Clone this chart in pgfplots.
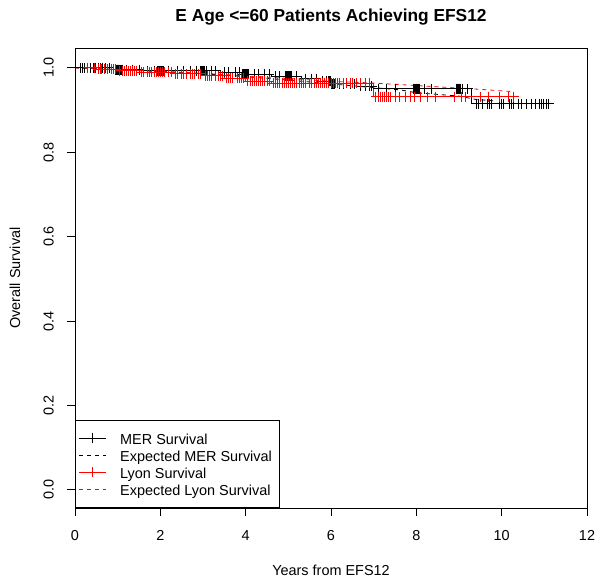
\documentclass[border=0pt]{standalone}
\usepackage{fontspec}
\setmainfont{Liberation Sans}
\usepackage{pgfplots}
\pgfplotsset{compat=1.18}
\definecolor{rred}{RGB}{255,0,0}
\begin{document}
\begin{tikzpicture}
\path[use as bounding box] (-75bp,-76bp) rectangle (529bp,508bp);
\begin{axis}[
  at={(0,0)}, anchor=south west,
  scale only axis, width=512bp, height=460bp,
  xmin=0, xmax=12, ymin=-0.043, ymax=1.047,
  xtick={0,2,...,12}, ytick={0,0.2,...,1.0},
  tick align=outside, major tick length=8bp,
  xtick pos=bottom, ytick pos=left,
  axis line style={line width=0.8bp},
  every tick/.style={black, line width=0.8bp},
  /pgf/number format/assume math mode=true,
  tick label style={font=\fontsize{14.5}{17}\selectfont},
  yticklabel style={/pgf/number format/fixed, /pgf/number format/fixed zerofill, /pgf/number format/precision=1, rotate=90, anchor=south, inner sep=0pt, yshift=13bp},
  xticklabel style={anchor=north, inner sep=0pt, yshift=-14bp},
  title={\bfseries E Age <=60 Patients Achieving EFS12},
  title style={at={(axis description cs:0.5,1)}, anchor=center, yshift=25bp, font=\fontsize{17.4}{20}\selectfont},
  xlabel={Years from EFS12},
  ylabel={Overall Survival},
  xlabel style={at={(axis description cs:0.5,0)}, anchor=center, yshift=-62bp, font=\fontsize{14.5}{17}\selectfont},
  ylabel style={at={(axis description cs:0,0.5)}, anchor=center, rotate=0, yshift=60bp, font=\fontsize{14.5}{17}\selectfont},
  legend style={at={(0,0)}, anchor=south west, draw=black, line width=0.8bp, inner xsep=3bp, inner ysep=11.5bp,
    font=\fontsize{14.5}{17}\selectfont, row sep=3.5bp,
    nodes={inner sep=0pt, text height=12.5bp, text depth=1bp, anchor=west}},
  legend cell align=left,
  legend image code/.code={\draw[#1] (0bp,0bp) -- (27bp,0bp); \path (41bp,0bp);},
]
% ---- MER survival (KM) ----
\addplot[black, line width=0.8bp, const plot, mark=none,
  legend image code/.code={\draw[black, line width=0.8bp] (0bp,0bp) -- (27bp,0bp); \draw[black, line width=0.8bp] (13.5bp,-5bp) -- (13.5bp,5bp); \path (41bp,0bp);}]
coordinates {(0,1.0) (0.9,0.996) (1.6,0.993) (3.4,0.989) (3.9,0.985) (4.6,0.980) (5.3,0.974) (5.7,0.968) (6.0,0.962) (6.6,0.956) (7.0,0.951) (9.3,0.915) (11.1,0.915)};
\addlegendentry{MER Survival}
% ---- Expected MER ----
\addplot[black, line width=0.8bp, dash pattern=on 4bp off 4bp, mark=none]
coordinates {(0,1.0) (1,0.996) (2,0.991) (3,0.986) (4,0.979) (5,0.971) (6,0.962) (7,0.953) (7.6,0.948) (8,0.941) (9,0.933) (9.4,0.925) (9.8,0.922)};
\addlegendentry{Expected MER Survival}
% ---- Lyon survival (KM) ----
\addplot[rred, line width=0.8bp, const plot, mark=none,
  legend image code/.code={\draw[rred, line width=0.8bp] (0bp,0bp) -- (27bp,0bp); \draw[rred, line width=0.8bp] (13.5bp,-5bp) -- (13.5bp,5bp); \path (41bp,0bp);}]
coordinates {(0,1.0) (0.5,0.997) (1.0,0.993) (1.5,0.990) (2.3,0.986) (3.0,0.981) (3.5,0.975) (4.0,0.969) (4.6,0.964) (7.0,0.932) (10.3,0.932)};
\addlegendentry{Lyon Survival}
% ---- Expected Lyon ----
\addplot[rred, line width=0.8bp, dash pattern=on 4bp off 4bp, mark=none]
coordinates {(0,1.0) (1,0.996) (2,0.992) (3,0.987) (4,0.981) (5,0.975) (6,0.968) (7,0.964) (8,0.958) (9,0.952) (9.5,0.949) (10.2,0.944)};
\addlegendentry{Expected Lyon Survival\hspace*{6bp}}
% ---- MER censor marks ----
\addplot[black, only marks, mark=+, mark size=5bp, mark options={line width=0.75bp}, forget plot]
coordinates {
(0.12,1.0) (0.18,1.0) (0.23,1.0) (0.36,1.0) (0.42,1.0) (0.47,1.0) (0.55,1.0) (0.6,1.0) (0.65,1.0) (0.72,1.0) (0.8,1.0)
(0.95,0.996) (0.97,0.996) (0.99,0.996) (1.0,0.996) (1.01,0.996) (1.02,0.996) (1.04,0.996) (1.06,0.996) (1.08,0.996) (1.1,0.996) (1.2,0.996) (1.35,0.996) (1.5,0.996)
(1.7,0.993) (1.85,0.993) (1.92,0.993) (1.95,0.993) (1.97,0.993) (1.99,0.993) (2.0,0.993) (2.02,0.993) (2.04,0.993) (2.07,0.993) (2.2,0.993) (2.4,0.993) (2.55,0.993) (2.7,0.993) (2.85,0.993) (2.93,0.993) (2.95,0.993) (2.97,0.993) (2.99,0.993) (3.0,0.993) (3.02,0.993) (3.04,0.993) (3.07,0.993) (3.2,0.993) (3.3,0.993)
(3.5,0.989) (3.6,0.989) (3.75,0.989) (3.85,0.989)
(3.93,0.985) (3.95,0.985) (3.97,0.985) (3.99,0.985) (4.0,0.985) (4.02,0.985) (4.04,0.985) (4.07,0.985) (4.2,0.985) (4.3,0.985) (4.45,0.985) (4.55,0.985)
(4.7,0.980) (4.8,0.980) (4.93,0.980) (4.95,0.980) (4.97,0.980) (4.99,0.980) (5.0,0.980) (5.02,0.980) (5.04,0.980) (5.07,0.980) (5.2,0.980)
(5.4,0.974) (5.55,0.974) (5.65,0.974)
(5.8,0.968) (5.9,0.968) (5.95,0.968) (5.97,0.968) (5.99,0.968)
(6.01,0.962) (6.03,0.962) (6.05,0.962) (6.08,0.962) (6.2,0.962) (6.3,0.962) (6.45,0.962) (6.55,0.962)
(6.7,0.956) (6.8,0.956) (6.9,0.956) (6.95,0.956)
(7.1,0.951) (7.3,0.951) (7.5,0.951) (7.93,0.951) (7.95,0.951) (7.97,0.951) (7.99,0.951) (8.0,0.951) (8.02,0.951) (8.04,0.951) (8.07,0.951) (8.2,0.951) (8.35,0.951) (8.93,0.951) (8.95,0.951) (8.97,0.951) (8.99,0.951) (9.0,0.951) (9.02,0.951) (9.04,0.951) (9.07,0.951) (9.2,0.951)
(9.4,0.915) (9.45,0.915) (9.55,0.915) (9.67,0.915) (9.72,0.915) (9.77,0.915) (9.95,0.915) (10.0,0.915) (10.05,0.915) (10.17,0.915) (10.22,0.915) (10.27,0.915) (10.38,0.915) (10.47,0.915) (10.58,0.915) (10.7,0.915) (10.78,0.915) (10.88,0.915) (10.93,0.915) (10.98,0.915) (11.05,0.915) (11.1,0.915)
};
% ---- Lyon censor marks ----
\addplot[rred, only marks, mark=+, mark size=5bp, mark options={line width=0.75bp}, forget plot]
coordinates {
(0.3,1.0) (0.45,1.0)
(0.55,0.997) (0.6,0.997) (0.62,0.997) (0.7,0.997) (0.75,0.997) (0.85,0.997) (0.9,0.997) (0.95,0.997)
(1.05,0.993) (1.1,0.993) (1.15,0.993) (1.2,0.993) (1.25,0.993) (1.3,0.993) (1.35,0.993) (1.4,0.993) (1.45,0.993)
(1.55,0.990) (1.6,0.990) (1.7,0.990) (1.75,0.990) (1.8,0.990) (1.85,0.990) (1.9,0.990) (1.95,0.990) (2.0,0.990) (2.05,0.990) (2.1,0.990) (2.2,0.990) (2.25,0.990)
(2.35,0.986) (2.4,0.986) (2.5,0.986) (2.55,0.986) (2.6,0.986) (2.7,0.986) (2.75,0.986) (2.8,0.986) (2.9,0.986) (2.95,0.986)
(3.05,0.981) (3.1,0.981) (3.15,0.981) (3.2,0.981) (3.3,0.981) (3.35,0.981) (3.4,0.981) (3.45,0.981)
(3.55,0.975) (3.6,0.975) (3.65,0.975) (3.7,0.975) (3.8,0.975) (3.85,0.975) (3.9,0.975) (3.95,0.975)
(4.05,0.969) (4.1,0.969) (4.15,0.969) (4.2,0.969) (4.25,0.969) (4.3,0.969) (4.35,0.969) (4.4,0.969) (4.45,0.969) (4.5,0.969) (4.55,0.969)
(4.65,0.964) (4.7,0.964) (4.75,0.964) (4.8,0.964) (4.85,0.964) (4.9,0.964) (4.95,0.964) (5.0,0.964) (5.05,0.964) (5.1,0.964) (5.15,0.964) (5.2,0.964) (5.25,0.964) (5.3,0.964) (5.35,0.964) (5.4,0.964) (5.5,0.964) (5.55,0.964) (5.6,0.964) (5.65,0.964) (5.7,0.964) (5.75,0.964) (5.8,0.964) (5.85,0.964) (5.9,0.964) (5.95,0.964) (6.0,0.964) (6.05,0.964) (6.1,0.964) (6.15,0.964) (6.2,0.964) (6.3,0.964) (6.35,0.964) (6.45,0.964) (6.5,0.964) (6.6,0.964) (6.7,0.964) (6.8,0.964) (6.9,0.964)
(7.05,0.932) (7.1,0.932) (7.15,0.932) (7.2,0.932) (7.25,0.932) (7.3,0.932) (7.35,0.932) (7.4,0.932) (7.5,0.932) (7.6,0.932) (7.75,0.932) (7.85,0.932) (7.95,0.932) (8.1,0.932) (8.25,0.932) (8.45,0.932) (8.9,0.932) (9.05,0.932) (9.15,0.932) (9.5,0.932) (9.7,0.932) (9.95,0.932) (10.15,0.932) (10.28,0.932)
};
\end{axis}
\end{tikzpicture}
\end{document}
